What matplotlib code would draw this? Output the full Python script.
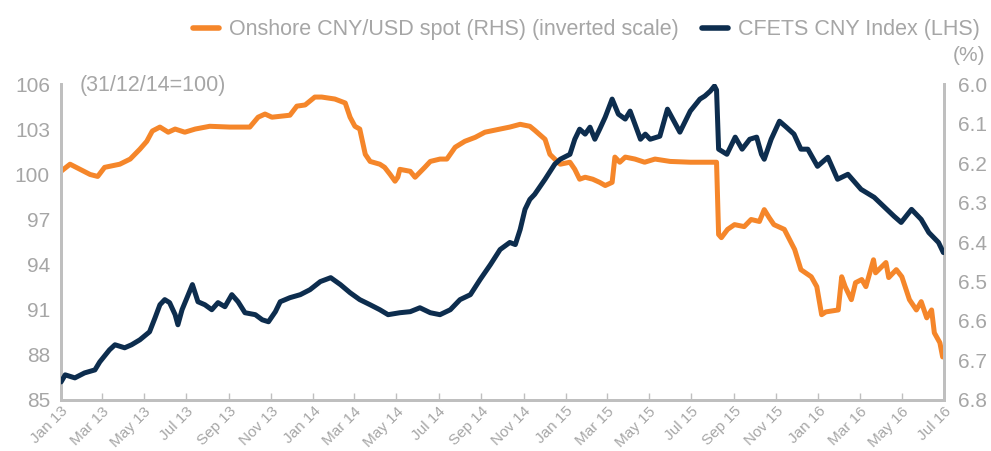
import matplotlib
matplotlib.use("Agg")
import matplotlib.pyplot as plt
import matplotlib.dates as mdates
from matplotlib.lines import Line2D
import pandas as pd

# CFETS CNY index (LHS, 31/12/14=100)
cfets_fechas = [
    "2013-01-01", "2013-01-07", "2013-01-21", "2013-02-04", "2013-02-19", "2013-02-26",
    "2013-03-12", "2013-03-20", "2013-04-03", "2013-04-13", "2013-04-25", "2013-05-09",
    "2013-05-17", "2013-05-24", "2013-05-31", "2013-06-07", "2013-06-15", "2013-06-19",
    "2013-06-25", "2013-07-04", "2013-07-10", "2013-07-18", "2013-07-28", "2013-08-07",
    "2013-08-16", "2013-08-26", "2013-09-05", "2013-09-14", "2013-09-24", "2013-10-09",
    "2013-10-19", "2013-10-28", "2013-11-07", "2013-11-14", "2013-11-28", "2013-12-13",
    "2013-12-27", "2014-01-11", "2014-01-26", "2014-02-09", "2014-02-23", "2014-03-09",
    "2014-03-24", "2014-04-07", "2014-04-19", "2014-05-06", "2014-05-21", "2014-06-04",
    "2014-06-19", "2014-07-03", "2014-07-18", "2014-08-01", "2014-08-16", "2014-08-30",
    "2014-09-14", "2014-09-28", "2014-10-12", "2014-10-20", "2014-10-27", "2014-11-03",
    "2014-11-10", "2014-11-17", "2014-12-02", "2014-12-16", "2014-12-24", "2015-01-07",
    "2015-01-14", "2015-01-21", "2015-01-29", "2015-02-05", "2015-02-12", "2015-02-19",
    "2015-02-27", "2015-03-09", "2015-03-18", "2015-03-28", "2015-04-04", "2015-04-11",
    "2015-04-19", "2015-04-26", "2015-05-03", "2015-05-17", "2015-05-28", "2015-06-15",
    "2015-06-30", "2015-07-14", "2015-07-21", "2015-07-29", "2015-08-04", "2015-08-07",
    "2015-08-10", "2015-08-22", "2015-09-03", "2015-09-13", "2015-09-24", "2015-10-04",
    "2015-10-11", "2015-10-15", "2015-10-25", "2015-11-06", "2015-11-16", "2015-11-27",
    "2015-12-07", "2015-12-17", "2015-12-31", "2016-01-15", "2016-01-29", "2016-02-13",
    "2016-03-03", "2016-03-22", "2016-04-20", "2016-04-30", "2016-05-15", "2016-05-29",
    "2016-06-09", "2016-06-23", "2016-06-30",
]
cfets_valores = [
    86.2, 86.67, 86.47, 86.8, 87.0, 87.53,
    88.33, 88.67, 88.47, 88.67, 89.0, 89.53,
    90.47, 91.33, 91.67, 91.47, 90.67, 90.0,
    91.0, 92.0, 92.67, 91.53, 91.33, 91.0,
    91.47, 91.2, 92.0, 91.53, 90.8, 90.67,
    90.33, 90.2, 90.87, 91.53, 91.8, 92.0,
    92.33, 92.87, 93.13, 92.67, 92.13, 91.67,
    91.33, 91.0, 90.67, 90.8, 90.87, 91.13,
    90.8, 90.67, 91.0, 91.67, 92.0, 93.0,
    94.0, 95.0, 95.47, 95.33, 96.33, 97.67,
    98.33, 98.67, 99.67, 100.67, 101.0, 101.33,
    102.33, 103.0, 102.67, 103.13, 102.33, 103.0,
    103.8, 105.0, 104.0, 103.67, 104.2, 103.33,
    102.33, 102.67, 102.33, 102.53, 104.33, 102.8,
    104.2, 105.0, 105.2, 105.53, 105.87, 105.6,
    101.67, 101.33, 102.47, 101.67, 102.33, 102.47,
    101.33, 101.0, 102.33, 103.53, 103.13, 102.67,
    101.67, 101.67, 100.53, 101.13, 99.67, 100.0,
    99.0, 98.47, 97.2, 96.8, 97.67, 97.0,
    96.13, 95.47, 94.8,
]

# CNY/USD onshore spot (RHS, inverted)
spot_fechas = [
    "2013-01-01", "2013-01-14", "2013-02-12", "2013-02-23", "2013-03-05", "2013-03-27",
    "2013-04-11", "2013-04-25", "2013-05-05", "2013-05-13", "2013-05-24", "2013-06-05",
    "2013-06-15", "2013-06-29", "2013-07-14", "2013-08-04", "2013-09-02", "2013-10-01",
    "2013-10-13", "2013-10-23", "2013-11-02", "2013-11-28", "2013-12-08", "2013-12-20",
    "2013-12-27", "2014-01-03", "2014-01-13", "2014-02-01", "2014-02-16", "2014-02-23",
    "2014-03-02", "2014-03-09", "2014-03-17", "2014-03-24", "2014-04-07", "2014-04-14",
    "2014-04-22", "2014-04-29", "2014-05-03", "2014-05-06", "2014-05-21", "2014-05-28",
    "2014-06-11", "2014-06-19", "2014-07-03", "2014-07-13", "2014-07-25", "2014-08-08",
    "2014-08-23", "2014-09-06", "2014-09-28", "2014-10-12", "2014-10-27", "2014-11-10",
    "2014-11-17", "2014-12-02", "2014-12-09", "2014-12-16", "2014-12-24", "2015-01-07",
    "2015-01-14", "2015-01-21", "2015-01-29", "2015-02-09", "2015-02-19", "2015-02-27",
    "2015-03-09", "2015-03-13", "2015-03-20", "2015-03-28", "2015-04-11", "2015-04-25",
    "2015-05-10", "2015-06-01", "2015-06-30", "2015-08-07", "2015-08-10", "2015-08-14",
    "2015-08-23", "2015-09-02", "2015-09-16", "2015-09-26", "2015-10-08", "2015-10-15",
    "2015-10-22", "2015-10-29", "2015-11-13", "2015-11-28", "2015-12-07", "2015-12-22",
    "2015-12-30", "2016-01-06", "2016-01-12", "2016-01-30", "2016-02-04", "2016-02-09",
    "2016-02-18", "2016-02-24", "2016-03-04", "2016-03-10", "2016-03-21", "2016-03-24",
    "2016-04-08", "2016-04-12", "2016-04-23", "2016-05-01", "2016-05-12", "2016-05-22",
    "2016-05-29", "2016-06-06", "2016-06-13", "2016-06-17", "2016-06-25", "2016-06-29",
]
spot_valores = [
    6.221, 6.203, 6.229, 6.234, 6.211, 6.203,
    6.190, 6.165, 6.145, 6.119, 6.109, 6.122,
    6.114, 6.122, 6.114, 6.107, 6.109, 6.109,
    6.084, 6.076, 6.084, 6.079, 6.056, 6.053,
    6.043, 6.033, 6.033, 6.038, 6.048, 6.084,
    6.107, 6.114, 6.178, 6.196, 6.203, 6.211,
    6.229, 6.246, 6.236, 6.216, 6.221, 6.236,
    6.211, 6.196, 6.190, 6.190, 6.160, 6.145,
    6.135, 6.122, 6.114, 6.109, 6.102, 6.107,
    6.117, 6.140, 6.178, 6.190, 6.203, 6.198,
    6.216, 6.241, 6.236, 6.241, 6.249, 6.257,
    6.249, 6.185, 6.198, 6.185, 6.190, 6.198,
    6.190, 6.196, 6.198, 6.198, 6.381, 6.389,
    6.368, 6.356, 6.361, 6.343, 6.348, 6.318,
    6.338, 6.356, 6.368, 6.419, 6.470, 6.488,
    6.513, 6.584, 6.577, 6.572, 6.488, 6.513,
    6.546, 6.503, 6.495, 6.513, 6.445, 6.478,
    6.452, 6.490, 6.470, 6.488, 6.546, 6.572,
    6.551, 6.592, 6.572, 6.630, 6.655, 6.691,
]

yticks_izq = [85, 88, 91, 94, 97, 100, 103, 106]
yticks_der = [6.0, 6.1, 6.2, 6.3, 6.4, 6.5, 6.6, 6.7, 6.8]

naranja = "#f5862a"
azul = "#0d2d4e"
gris_txt = "#a6a6a6"
gris_eje = "#bfbfbf"

plt.rcParams["font.family"] = ["Liberation Sans", "DejaVu Sans"]

fig = plt.figure(figsize=(9.91, 4.51), dpi=100)
ax = fig.add_axes([0.0616, 0.1131, 0.891, 0.7006])
ax2 = ax.twinx()

ax.plot(pd.to_datetime(cfets_fechas), cfets_valores, color=azul, lw=3.6,
        solid_joinstyle="round", solid_capstyle="round", zorder=3)
ax2.plot(pd.to_datetime(spot_fechas), spot_valores, color=naranja, lw=3.6,
         solid_joinstyle="round", solid_capstyle="round")
ax.set_zorder(ax2.get_zorder() + 1)
ax.patch.set_visible(False)

ax.set_xlim(pd.Timestamp("2013-01-01"), pd.Timestamp("2016-07-01"))
ax.set_ylim(85, 106)
ax.set_yticks(yticks_izq)
ax2.set_ylim(6.8, 6.0)
ax2.set_yticks(yticks_der)
ax2.set_yticklabels([f"{v:.1f}" for v in yticks_der])

ax.xaxis.set_major_locator(mdates.MonthLocator(bymonth=[1, 3, 5, 7, 9, 11]))
ax.xaxis.set_major_formatter(mdates.DateFormatter("%b %y"))
for lab in ax.get_xticklabels():
    lab.set_rotation(45)
    lab.set_ha("right")
    lab.set_rotation_mode("anchor")

for a in (ax, ax2):
    a.spines["top"].set_visible(False)
    for lado in ("left", "right", "bottom"):
        a.spines[lado].set_color(gris_eje)
        a.spines[lado].set_linewidth(2)

ax.tick_params(axis="x", direction="in", length=5, width=1, color=gris_eje,
               labelsize=11, labelcolor=gris_txt, pad=3)
ax.tick_params(axis="y", length=0, labelsize=15, labelcolor=gris_txt, pad=8)
ax2.tick_params(axis="y", length=0, labelsize=15, labelcolor=gris_txt, pad=10)

ax.text(0.021, 0.995, "(31/12/14=100)", transform=ax.transAxes, fontsize=15.5,
        color=gris_txt, va="center", ha="left")
fig.text(0.994, 0.878, "(%)", fontsize=15, color=gris_txt, ha="right", va="center")

manijas = [
    Line2D([], [], color=naranja, lw=4, solid_capstyle="round"),
    Line2D([], [], color=azul, lw=4, solid_capstyle="round"),
]
fig.legend(manijas, ["Onshore CNY/USD spot (RHS) (inverted scale)", "CFETS CNY Index (LHS)"],
           loc="upper right", bbox_to_anchor=(1.008, 1.0), ncol=2, frameon=False,
           fontsize=15.5, labelcolor=gris_txt, handlelength=1.2, handletextpad=0.45,
           columnspacing=1.1)

fig.savefig("out.png", dpi=100)
